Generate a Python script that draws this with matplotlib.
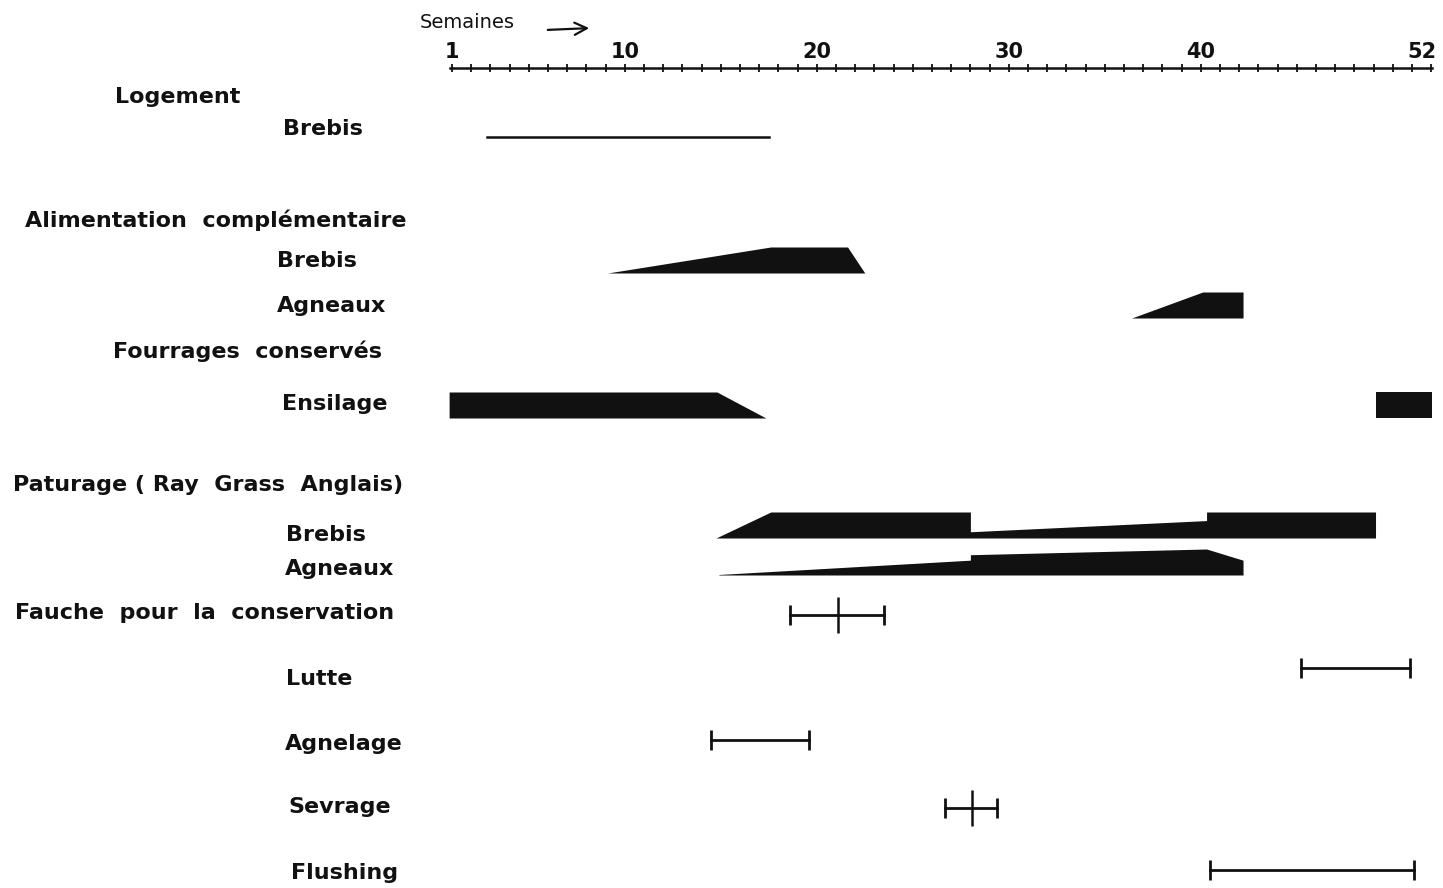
import numpy as np
import matplotlib.pyplot as plt

# Calendrier de conduite du troupeau (semaines 1 a 52)
weeks = np.arange(1, 53)
week_labels = [1, 10, 20, 30, 40, 52]

# Logement des brebis
logement_brebis = [2.8, 17.5]

# Alimentation complementaire : profil (semaine, intensite relative)
alim_brebis_x = [9.1, 17.6, 21.6, 22.5]
alim_brebis_h = [0.0, 1.0, 1.0, 0.0]
alim_agneaux_x = [36.4, 40.1, 42.2, 42.2]
alim_agneaux_h = [0.0, 1.0, 1.0, 0.0]

# Fourrages conserves : ensilage
ensilage_x = [0.85, 14.8, 17.35]
ensilage_h = [1.0, 1.0, 0.0]
ensilage2_x = [49.1, 52.05]
ensilage2_h = [1.0, 1.0]

# Paturage (Ray Grass Anglais)
pat_brebis_x = [14.75, 17.6, 28.0, 28.0, 40.3, 40.3, 49.1]
pat_brebis_h = [0.0, 1.0, 1.0, 0.24, 0.67, 1.0, 1.0]
pat_agneaux_x = [14.9, 28.0, 28.0, 40.3, 42.2, 42.2]
pat_agneaux_h = [0.02, 0.57, 0.78, 1.0, 0.57, 0.0]

# Periodes (debut, fin, repere central ou None)
fauche = (18.6, 23.5, 21.1)
lutte = (45.2, 50.9, None)
agnelage = (14.5, 19.6, None)
sevrage = (26.7, 29.4, 28.1)
flushing = (40.5, 51.1, None)

W, H = 1443, 888
fig = plt.figure(figsize=(W / 100, H / 100), dpi=100)
ax = fig.add_axes([0, 0, 1, 1])
px_per_week = 19.2
ax.set_xlim(1 - 452 / px_per_week, 1 + (W - 452) / px_per_week)
ax.set_ylim(H, 0)
ax.axis("off")

ink = "#111111"
band = 26


def wedge(xs, hs, y_bottom):
    hs = np.asarray(hs)
    ax.fill_between(xs, y_bottom, y_bottom - hs * band, color=ink, lw=0)


def period(p, y):
    lo, hi, mid = p
    ax.plot([lo, hi], [y, y], color=ink, lw=2, marker="|", ms=14, mew=2)
    if mid is not None:
        ax.plot([mid], [y], color=ink, marker="|", ms=26, mew=1.8)


# echelle des semaines
ax.plot([weeks[0] - 0.1, weeks[-1] + 0.05], [68, 68], color=ink, lw=1.8)
ax.plot(weeks, np.full(len(weeks), 68), ls="none", marker="|", ms=6, mew=1.3, color=ink)
for w in week_labels:
    if w == week_labels[-1]:
        ax.text(w + 0.25, 52, str(w), ha="right", va="center", fontsize=15, fontweight="bold", color=ink)
    else:
        ax.text(w, 52, str(w), ha="center", va="center", fontsize=15, fontweight="bold", color=ink)
fig.text(420 / W, 1 - 22 / H, "Semaines", ha="left", va="center", fontsize=14, color=ink)
ax.annotate("", xy=(1 + (592 - 452) / px_per_week, 28), xytext=(1 + (545 - 452) / px_per_week, 30),
            arrowprops=dict(arrowstyle="->", color=ink, lw=1.6, mutation_scale=22))

# marques
ax.plot(logement_brebis, [137, 137], color=ink, lw=1.8)
wedge(alim_brebis_x, alim_brebis_h, 273)
wedge(alim_agneaux_x, alim_agneaux_h, 318)
wedge(ensilage_x, ensilage_h, 418)
wedge(ensilage2_x, ensilage2_h, 418)
wedge(pat_brebis_x, pat_brebis_h, 538)
wedge(pat_agneaux_x, pat_agneaux_h, 575)
period(fauche, 615)
period(lutte, 668)
period(agnelage, 740)
period(sevrage, 808)
period(flushing, 870)

# libelles
labels = [
    ("Logement", 115, 97),
    ("Brebis", 283, 129),
    ("Alimentation  complémentaire", 25, 220),
    ("Brebis", 277, 261),
    ("Agneaux", 277, 306),
    ("Fourrages  conservés", 113, 351),
    ("Ensilage", 282, 404),
    ("Paturage ( Ray  Grass  Anglais)", 13, 485),
    ("Brebis", 286, 535),
    ("Agneaux", 285, 569),
    ("Fauche  pour  la  conservation", 15, 613),
    ("Lutte", 286, 679),
    ("Agnelage", 285, 744),
    ("Sevrage", 288, 807),
    ("Flushing", 291, 873),
]
for txt, x, y in labels:
    fig.text(x / W, 1 - y / H, txt, ha="left", va="center", fontsize=16, fontweight="bold", color=ink)

fig.savefig("out.png", dpi=100)
